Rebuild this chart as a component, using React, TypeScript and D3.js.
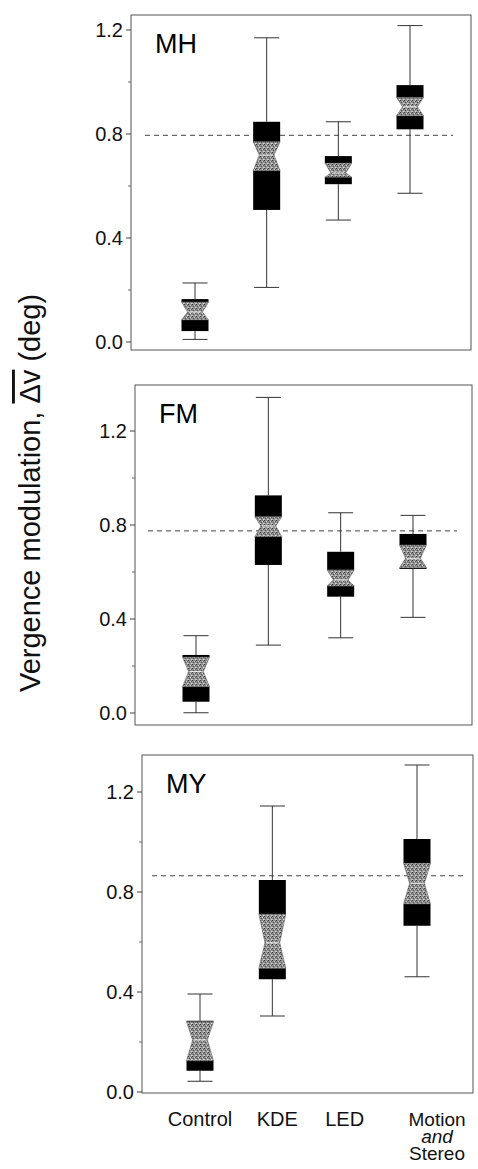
import React from "react";
import * as d3 from "d3";

// ---- data ----
const categories = ["Control", "KDE", "LED", "Motion and Stereo"];
const subjects = ["MH", "FM", "MY"];
const yTickValues = [0, 0.4, 0.8, 1.2];
const yMinorTickValues = [0.2, 0.6, 1.0];

// each stat: [whiskerLow, q1, notchLow, median, notchHigh, q3, whiskerHigh]
const statsMH = [
  [0.01, 0.042, 0.085, 0.115, 0.154, 0.165, 0.227],
  [0.21, 0.508, 0.659, 0.719, 0.77, 0.847, 1.17],
  [0.469, 0.607, 0.634, 0.65, 0.688, 0.715, 0.847],
  [0.572, 0.818, 0.87, 0.905, 0.94, 0.988, 1.217],
];
const statsFM = [
  [0.001, 0.048, 0.112, 0.176, 0.238, 0.247, 0.329],
  [0.289, 0.63, 0.75, 0.796, 0.835, 0.926, 1.343],
  [0.32, 0.495, 0.54, 0.566, 0.609, 0.686, 0.852],
  [0.407, 0.613, 0.618, 0.658, 0.715, 0.762, 0.841],
];
const statsMY = [
  [0.043, 0.085, 0.125, 0.208, 0.281, 0.285, 0.392],
  [0.304, 0.451, 0.495, 0.597, 0.712, 0.848, 1.144],
  null,
  [0.461, 0.665, 0.752, 0.835, 0.915, 1.012, 1.308],
];
const referenceValues = [0.795, 0.775, 0.865];
const allStats = [statsMH, statsFM, statsMY];

// ---- layout (positions only) ----
const panels = [
  { left: 131, top: 15, right: 471, bottom: 350, y0: 342, pxPerUnit: 260, xFirst: 195, xLast: 410, refX: [145, 453] },
  { left: 135, top: 385, right: 472, bottom: 725, y0: 713, pxPerUnit: 235, xFirst: 196, xLast: 413, refX: [148, 457] },
  { left: 142, top: 755, right: 473, bottom: 1093, y0: 1092, pxPerUnit: 250, xFirst: 200, xLast: 417, refX: [152, 465] },
];
const labelDx = [0, 5, 0, 20];
const FONT = "'Liberation Sans', Arial, Helvetica, sans-serif";
const BOX_W = 27;
const NARROW = 0.55;
const CAP_W = 25;

function BoxMark({ s, cx, y }: { s: number[]; cx: number; y: (v: number) => number }) {
  const [wl, q1, nl, med, nh, q3, wh] = s;
  const hw = BOX_W / 2;
  const nw = (BOX_W * NARROW) / 2;
  const chw = CAP_W / 2;
  const notchPath = d3.path();
  notchPath.moveTo(cx - hw, y(nh));
  notchPath.lineTo(cx + hw, y(nh));
  notchPath.lineTo(cx + nw, y(med));
  notchPath.lineTo(cx + hw, y(nl));
  notchPath.lineTo(cx - hw, y(nl));
  notchPath.lineTo(cx - nw, y(med));
  notchPath.closePath();
  return (
    <g>
      <line x1={cx} x2={cx} y1={y(q3)} y2={y(wh)} stroke="#333" strokeWidth={1} />
      <line x1={cx - chw} x2={cx + chw} y1={y(wh)} y2={y(wh)} stroke="#333" strokeWidth={1} />
      <line x1={cx} x2={cx} y1={y(q1)} y2={y(wl)} stroke="#333" strokeWidth={1} />
      <line x1={cx - chw} x2={cx + chw} y1={y(wl)} y2={y(wl)} stroke="#333" strokeWidth={1} />
      <rect x={cx - hw} y={y(q3)} width={BOX_W} height={Math.max(0, y(nh) - y(q3))} fill="#000" />
      <rect x={cx - hw} y={y(nl)} width={BOX_W} height={Math.max(0, y(q1) - y(nl))} fill="#000" />
      <path d={notchPath.toString()} fill="url(#stipple)" stroke="#555" strokeWidth={0.5} />
      <line x1={cx - nw + 1} x2={cx + nw - 1} y1={y(med)} y2={y(med)} stroke="#fff" strokeWidth={1} opacity={0.8} />
    </g>
  );
}

function Panel({ idx }: { idx: number }) {
  const p = panels[idx];
  const stats = allStats[idx];
  const y = d3
    .scaleLinear()
    .domain([(p.y0 - p.bottom) / p.pxPerUnit, (p.y0 - p.top) / p.pxPerUnit])
    .range([p.bottom, p.top]);
  const x = d3.scalePoint<string>().domain(categories).range([p.xFirst, p.xLast]);
  return (
    <g>
      <rect x={p.left} y={p.top} width={p.right - p.left} height={p.bottom - p.top} fill="none" stroke="#555" strokeWidth={1} />
      {yTickValues.map((t) => (
        <g key={"t" + t}>
          <line x1={p.left - 5} x2={p.left} y1={y(t)} y2={y(t)} stroke="#444" />
          <text x={p.left - 8} y={y(t)} dy="0.36em" textAnchor="end" fontSize={20} fontFamily={FONT} fill="#111">
            {d3.format(".1f")(t)}
          </text>
        </g>
      ))}
      {yMinorTickValues.map((t) => (
        <line key={"m" + t} x1={p.left - 3} x2={p.left} y1={y(t)} y2={y(t)} stroke="#666" />
      ))}
      <line
        x1={p.refX[0]}
        x2={p.refX[1]}
        y1={y(referenceValues[idx])}
        y2={y(referenceValues[idx])}
        stroke="#444"
        strokeWidth={1}
        strokeDasharray="5,4"
      />
      {stats.map((s, i) => (s ? <BoxMark key={i} s={s} cx={x(categories[i]) as number} y={y} /> : null))}
      <text x={p.left + 24} y={p.top + 38} fontSize={27} fontFamily={FONT} fill="#000">
        {subjects[idx]}
      </text>
    </g>
  );
}

export default function App() {
  const p3 = panels[2];
  const x3 = d3.scalePoint<string>().domain(categories).range([p3.xFirst, p3.xLast]);
  const labelY = 1126;
  return (
    <svg width={478} height={1169} style={{ position: "absolute", left: 0, top: 0, background: "#fff" }}>
      <defs>
        <pattern id="stipple" width={4} height={4} patternUnits="userSpaceOnUse">
          <rect width={4} height={4} fill="#8e8e8e" />
          <rect x={0} y={0} width={1} height={1} fill="#3a3a3a" />
          <rect x={2} y={1} width={1} height={1} fill="#cfcfcf" />
          <rect x={1} y={2} width={1} height={1} fill="#555" />
          <rect x={3} y={3} width={1} height={1} fill="#d8d8d8" />
          <rect x={3} y={1} width={1} height={1} fill="#606060" />
          <rect x={0} y={3} width={1} height={1} fill="#bdbdbd" />
        </pattern>
      </defs>
      <rect width={478} height={1169} fill="#fff" />
      {panels.map((_, i) => (
        <Panel key={i} idx={i} />
      ))}
      {categories.map((c, i) => {
        const cx = (x3(c) as number) + labelDx[i];
        if (c === "Motion and Stereo") {
          return (
            <g key={c}>
              <text x={cx} y={labelY} textAnchor="middle" fontSize={19} fontFamily={FONT} fill="#111">Motion</text>
              <text x={cx} y={labelY + 17} textAnchor="middle" fontSize={19} fontStyle="italic" fontFamily={FONT} fill="#111">and</text>
              <text x={cx} y={labelY + 34} textAnchor="middle" fontSize={19} fontFamily={FONT} fill="#111">Stereo</text>
            </g>
          );
        }
        return (
          <text key={c} x={cx} y={labelY} textAnchor="middle" fontSize={20} fontFamily={FONT} fill="#111">
            {c}
          </text>
        );
      })}
      <text
        transform="translate(40,493) rotate(-90)"
        textAnchor="middle"
        fontSize={29}
        fontFamily={FONT}
        fill="#111"
      >
        Vergence modulation, <tspan style={{ textDecoration: "overline" }}>Δv</tspan> (deg)
      </text>
    </svg>
  );
}
